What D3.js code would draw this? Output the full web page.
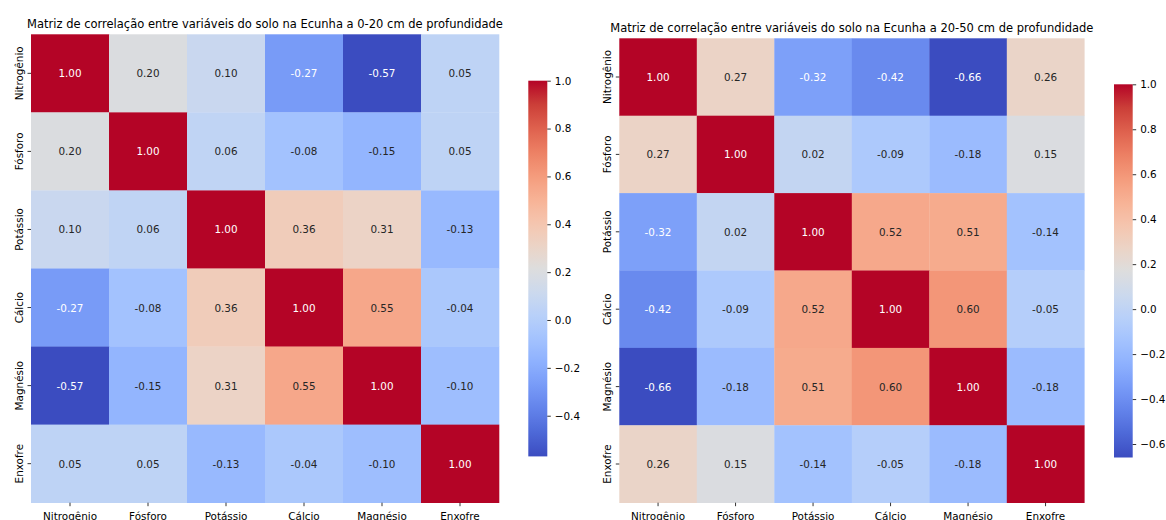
<!DOCTYPE html>
<html>
<head>
<meta charset="utf-8">
<script src="https://cdn.jsdelivr.net/npm/d3@7"></script>
<style>
  body { margin: 0; background: #ffffff; }
  svg { display: block; font-family: "DejaVu Sans", sans-serif; }
</style>
</head>
<body>
<svg id="chart" width="1166" height="520"></svg>
<script>
// Soil variables (rows and columns of both matrices)
const variables = ["Nitrogênio", "Fósforo", "Potássio", "Cálcio", "Magnésio", "Enxofre"];

// Correlation matrix, 0-20 cm depth
const corrTopsoil = [
  [ 1.00,  0.20,  0.10, -0.27, -0.57,  0.05],
  [ 0.20,  1.00,  0.06, -0.08, -0.15,  0.05],
  [ 0.10,  0.06,  1.00,  0.36,  0.31, -0.13],
  [-0.27, -0.08,  0.36,  1.00,  0.55, -0.04],
  [-0.57, -0.15,  0.31,  0.55,  1.00, -0.10],
  [ 0.05,  0.05, -0.13, -0.04, -0.10,  1.00]
];

// Correlation matrix, 20-50 cm depth
const corrSubsoil = [
  [ 1.00,  0.27, -0.32, -0.42, -0.66,  0.26],
  [ 0.27,  1.00,  0.02, -0.09, -0.18,  0.15],
  [-0.32,  0.02,  1.00,  0.52,  0.51, -0.14],
  [-0.42, -0.09,  0.52,  1.00,  0.60, -0.05],
  [-0.66, -0.18,  0.51,  0.60,  1.00, -0.18],
  [ 0.26,  0.15, -0.14, -0.05, -0.18,  1.00]
];

const titleTopsoil = "Matriz de correlação entre variáveis do solo na Ecunha a 0-20 cm de profundidade";
const titleSubsoil = "Matriz de correlação entre variáveis do solo na Ecunha a 20-50 cm de profundidade";

// Colorbar tick values
const ticksTopsoil = [-0.4, -0.2, 0.0, 0.2, 0.4, 0.6, 0.8, 1.0];
const ticksSubsoil = [-0.6, -0.4, -0.2, 0.0, 0.2, 0.4, 0.6, 0.8, 1.0];

// Diverging "coolwarm" palette, sampled at 17 evenly spaced stops
const coolwarmStops = [
  "#3b4cc0", "#4d68d7", "#6282ea", "#779af7", "#8db0fe", "#a3c2fe",
  "#b8d0f9", "#ccd9ed", "#dddddd", "#ecd3c5", "#f5c4ad", "#f7b194",
  "#f49a7b", "#ec7f63", "#de604d", "#cb3e38", "#b40426"
];
const coolwarm = d3.scaleLinear()
  .domain(coolwarmStops.map((_, i) => i / (coolwarmStops.length - 1)))
  .range(coolwarmStops)
  .interpolate(d3.interpolateRgb)
  .clamp(true);

const svg = d3.select("#chart");
const defs = svg.append("defs");

function luminance(color) {
  const c = d3.rgb(color);
  const lin = v => {
    v /= 255;
    return v <= 0.03928 ? v / 12.92 : Math.pow((v + 0.055) / 1.055, 2.4);
  };
  return 0.2126 * lin(c.r) + 0.7152 * lin(c.g) + 0.0722 * lin(c.b);
}

// Cell values use a plain hyphen, colorbar ticks a true minus sign
const fmt2 = v => d3.format(".2f")(v).replace("\u2212", "-");
const fmtTick = v => d3.format(".1f")(v).replace("-", "\u2212");

function drawPanel(cfg) {
  const { matrix, title, ticks, box, cb, id } = cfg;
  const flat = matrix.flat();
  const vmin = d3.min(flat), vmax = d3.max(flat);
  const norm = d3.scaleLinear().domain([vmin, vmax]).range([0, 1]);
  const colorOf = v => coolwarm(norm(v));

  const x = d3.scaleBand().domain(variables).range([box.x0, box.x1]).padding(0);
  const y = d3.scaleBand().domain(variables).range([box.y0, box.y1]).padding(0);

  const g = svg.append("g");

  // Cells
  const cells = [];
  matrix.forEach((row, i) => row.forEach((v, j) => cells.push({ r: variables[i], c: variables[j], v })));

  g.selectAll("rect.cell").data(cells).enter().append("rect")
    .attr("class", "cell")
    .attr("x", d => x(d.c))
    .attr("y", d => y(d.r))
    .attr("width", x.bandwidth() + 0.3)
    .attr("height", y.bandwidth() + 0.3)
    .attr("fill", d => colorOf(d.v));

  // Annotations
  g.selectAll("text.annot").data(cells).enter().append("text")
    .attr("class", "annot")
    .attr("x", d => x(d.c) + x.bandwidth() / 2)
    .attr("y", d => y(d.r) + y.bandwidth() / 2)
    .attr("text-anchor", "middle")
    .attr("dominant-baseline", "central")
    .attr("font-size", 10.4)
    .attr("fill", d => luminance(colorOf(d.v)) > 0.408 ? "#262626" : "#ffffff")
    .text(d => fmt2(d.v));

  // Bottom axis
  const xAxis = g.append("g").attr("transform", `translate(0,${box.y1})`)
    .call(d3.axisBottom(x).tickSize(3.5).tickPadding(6.2));
  xAxis.select(".domain").remove();
  xAxis.selectAll(".tick line").attr("stroke", "#000").attr("stroke-width", 0.8);
  xAxis.selectAll(".tick text")
    .attr("font-family", "DejaVu Sans")
    .attr("font-size", 10.4)
    .attr("fill", "#000");

  // Left axis, rotated labels
  const yAxis = g.append("g").attr("transform", `translate(${box.x0},0)`)
    .call(d3.axisLeft(y).tickSize(3.5));
  yAxis.select(".domain").remove();
  yAxis.selectAll(".tick line").attr("stroke", "#000").attr("stroke-width", 0.8);
  yAxis.selectAll(".tick text")
    .attr("font-family", "DejaVu Sans")
    .attr("font-size", 10.4)
    .attr("fill", "#000")
    .attr("x", null).attr("dy", null)
    .attr("text-anchor", "middle")
    .attr("transform", "translate(-8.5,0) rotate(-90)");

  // Title
  g.append("text")
    .attr("x", (box.x0 + box.x1) / 2)
    .attr("y", box.titleY)
    .attr("text-anchor", "middle")
    .attr("font-size", 11.5)
    .attr("fill", "#000")
    .text(title);

  // Colorbar
  const grad = defs.append("linearGradient")
    .attr("id", id)
    .attr("x1", 0).attr("y1", 1).attr("x2", 0).attr("y2", 0);
  d3.range(0, 1.0001, 1 / 64).forEach(t => {
    grad.append("stop").attr("offset", t).attr("stop-color", coolwarm(t));
  });
  g.append("rect")
    .attr("x", cb.x).attr("y", cb.top)
    .attr("width", cb.w).attr("height", cb.bottom - cb.top)
    .attr("fill", `url(#${id})`);

  const cbScale = d3.scaleLinear().domain([vmin, vmax]).range([cb.bottom, cb.top]);
  const cbAxis = g.append("g").attr("transform", `translate(${cb.x + cb.w},0)`)
    .call(d3.axisRight(cbScale).tickValues(ticks).tickFormat(fmtTick).tickSize(3.5).tickPadding(4));
  cbAxis.select(".domain").remove();
  cbAxis.selectAll(".tick line").attr("stroke", "#000").attr("stroke-width", 0.8);
  cbAxis.selectAll(".tick text")
    .attr("font-family", "DejaVu Sans")
    .attr("font-size", 10.4)
    .attr("fill", "#000");
}

drawPanel({
  id: "cbTopsoil",
  matrix: corrTopsoil,
  title: titleTopsoil,
  ticks: ticksTopsoil,
  box: { x0: 31, x1: 499, y0: 34.3, y1: 502.7, titleY: 28.3 },
  cb: { x: 528.3, w: 19, top: 80.7, bottom: 456.4 }
});

drawPanel({
  id: "cbSubsoil",
  matrix: corrSubsoil,
  title: titleSubsoil,
  ticks: ticksSubsoil,
  box: { x0: 619.3, x1: 1084.3, y0: 38.3, y1: 502.7, titleY: 32.3 },
  cb: { x: 1114, w: 18.7, top: 84.3, bottom: 457.5 }
});
</script>
</body>
</html>
